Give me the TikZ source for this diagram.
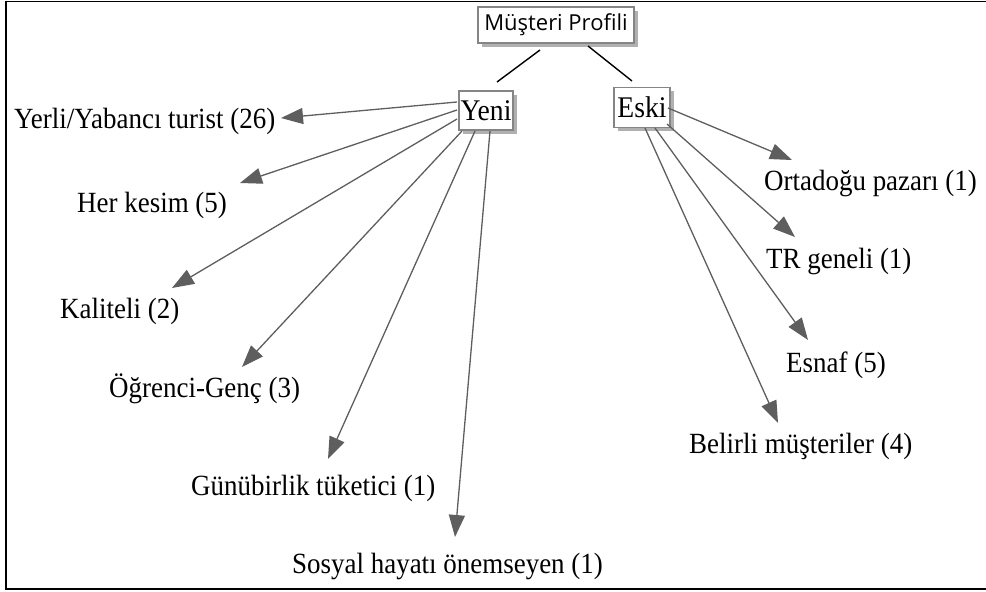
\documentclass[tikz,border=0pt]{standalone}
\usepackage{fontspec}
\setmainfont{Liberation Serif}
\newfontfamily\lblfont[FakeStretch=0.92]{Liberation Serif}
\newfontfamily\boxsans{Open Sans}
\usetikzlibrary{arrows.meta,shadows}
\definecolor{arrowgray}{HTML}{5E5E5E}
\definecolor{boxedge}{HTML}{858585}
\definecolor{shadowgray}{HTML}{B0B0B0}
\begin{document}
\begin{tikzpicture}[x=1pt,y=-1pt,
  catbox/.style={draw=boxedge, line width=1.5pt, fill=white, inner sep=0pt,
    drop shadow={shadow xshift=3.5pt, shadow yshift=-3.5pt, fill=shadowgray, opacity=1}},
  lbl/.style={anchor=base west, inner sep=0pt, font=\lblfont\fontsize{29.3}{33}\selectfont},
  arr/.style={draw=arrowgray, line width=1.3pt, -{Triangle[length=22pt,width=16pt]}, arrowgray},
  link/.style={draw=black, line width=1.4pt}]
\useasboundingbox (0,0) rectangle (986,592);
% frame
\draw[line width=1pt] (6,1.5) -- (986,1.5);
\draw[line width=2.5pt] (6,0.5) -- (6,589) -- (986,589);
% boxes
\node[catbox, minimum width=156pt, minimum height=36pt, font=\boxsans\fontsize{22}{26}\selectfont] (root) at (556,25) {Müşteri Profili};
\node[catbox, minimum width=54pt, minimum height=39pt, font=\lblfont\fontsize{30}{34}\selectfont] (yeni) at (486,110.5) {Yeni};
\node[catbox, minimum width=56pt, minimum height=40pt, font=\lblfont\fontsize{30}{34}\selectfont] (eski) at (642,107.5) {Eski};
% root links
\coordinate (r1) at (540,50); \coordinate (y0) at (497,82);
\coordinate (r2) at (588,46); \coordinate (e0) at (632,81);
\draw[link] (r1) -- (y0);
\draw[link] (r2) -- (e0);
% labels
\node[lbl] (l1) at (14,128) {Yerli/Yabancı turist (26)};
\node[lbl] (l2) at (77,212) {Her kesim (5)};
\node[lbl] (l3) at (60,318) {Kaliteli (2)};
\node[lbl] (l4) at (109,397) {Öğrenci-Genç (3)};
\node[lbl] (l5) at (191,495) {Günübirlik tüketici (1)};
\node[lbl] (l6) at (292,573) {Sosyal hayatı önemseyen (1)};
\node[lbl] (l7) at (764,190) {Ortadoğu pazarı (1)};
\node[lbl] (l8) at (766,268) {TR geneli (1)};
\node[lbl] (l9) at (786,372) {Esnaf (5)};
\node[lbl] (l10) at (689,453) {Belirli müşteriler (4)};
% arrow end points
\coordinate (s1) at (457,102); \coordinate (t1) at (281,118);
\coordinate (s2) at (457,110); \coordinate (t2) at (240,183);
\coordinate (s3) at (457,119); \coordinate (t3) at (172,288);
\coordinate (s4) at (462,131); \coordinate (t4) at (242,367);
\coordinate (s5) at (475,131); \coordinate (t5) at (328,459);
\coordinate (s6) at (490,131); \coordinate (t6) at (455,537);
\coordinate (s7) at (668,108); \coordinate (t7) at (792,160);
\coordinate (s8) at (667,124); \coordinate (t8) at (795,237);
\coordinate (s9) at (655,128); \coordinate (t9) at (808,340);
\coordinate (s10) at (645,128); \coordinate (t10) at (778,423);
\foreach \i in {1,...,10} {\draw[arr] (s\i) -- (t\i);}
\end{tikzpicture}
\end{document}
